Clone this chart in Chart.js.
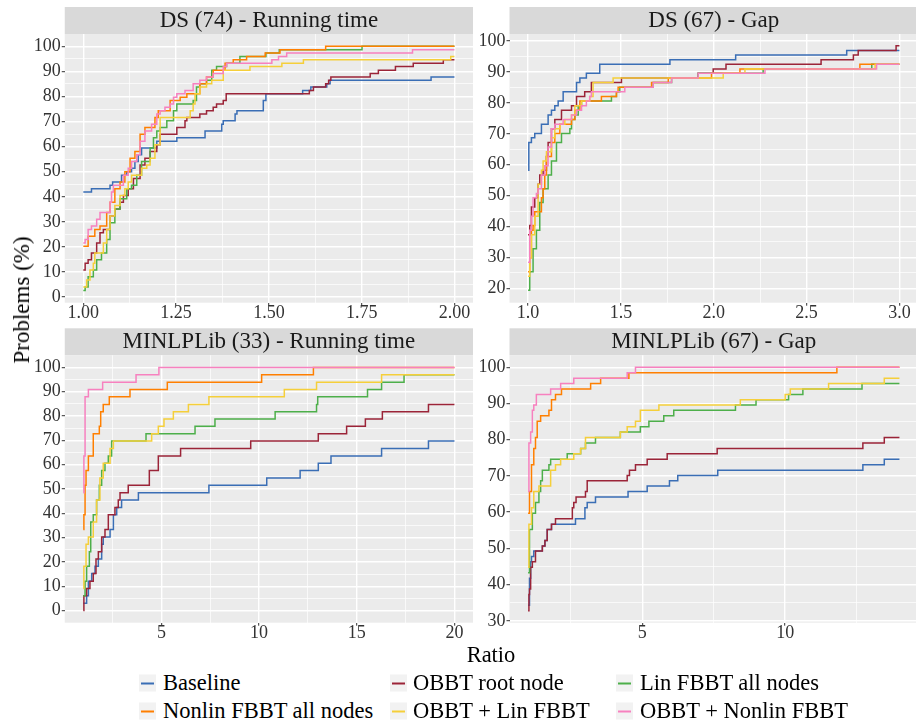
<!DOCTYPE html>
<html><head><meta charset="utf-8">
<script src="https://cdn.jsdelivr.net/npm/chart.js@4/dist/chart.umd.min.js"></script>
<style>
html,body{margin:0;padding:0;background:#fff;}
#wrap{position:relative;width:916px;height:727px;overflow:hidden;font-family:"Liberation Serif","Times New Roman",serif;color:#000;}
.pc{position:absolute;}
#ylab{position:absolute;left:22px;top:300px;transform:translate(-50%,-50%) rotate(-90deg);font-size:23px;white-space:nowrap;}
#xlab{position:absolute;left:491px;top:655px;transform:translate(-50%,-50%);font-size:22.5px;white-space:nowrap;}
.leg{position:absolute;font-size:22.5px;white-space:nowrap;line-height:24px;transform:translateY(-50%);}
.key{position:absolute;width:17px;height:17px;background:#F2F2F2;transform:translateY(-50%);}
.key i{position:absolute;left:2px;right:2px;top:7.5px;height:2.2px;display:block;}
</style></head>
<body>
<div id="wrap">
  <canvas id="p1" class="pc" width="490" height="330" style="left:0;top:0;width:490px;height:330px"></canvas>
  <canvas id="p2" class="pc" width="445" height="330" style="left:475px;top:0;width:445px;height:330px"></canvas>
  <canvas id="p3" class="pc" width="490" height="330" style="left:0;top:320px;width:490px;height:330px"></canvas>
  <canvas id="p4" class="pc" width="445" height="330" style="left:475px;top:320px;width:445px;height:330px"></canvas>
  <div id="ylab">Problems (%)</div>
  <div id="xlab">Ratio</div>
  <div id="legend"></div>
</div>
<script>
// ---------- data ----------
const seriesNames = ['Baseline','OBBT root node','Lin FBBT all nodes','Nonlin FBBT all nodes','OBBT + Lin FBBT','OBBT + Nonlin FBBT'];
const seriesColors = ['#3A6EB5','#9B2438','#4DAF4A','#FF7F00','#F5CF3A','#F781BF'];
const panelTitles = ['DS (74) - Running time','DS (67) - Gap','MINLPLib (33) - Running time','MINLPLib (67) - Gap'];

// DS (74) - Running time : [ratio, % problems]
const dsTimeBaseline = [[1.000,41.9],[1.022,43.2],[1.072,44.6],[1.079,45.9],[1.103,48.6],[1.117,50.0],[1.130,51.4],[1.139,54.1],[1.148,56.8],[1.157,59.5],[1.198,62.2],[1.252,63.5],[1.328,66.2],[1.373,68.9],[1.377,70.3],[1.409,73.0],[1.414,74.3],[1.485,78.4],[1.492,81.1],[1.591,82.4],[1.613,83.8],[1.656,85.1],[1.665,86.5],[1.937,87.8],[2.000,87.8]];
const dsTimeObbtRoot = [[1.000,10.8],[1.005,13.5],[1.013,14.9],[1.022,17.6],[1.036,21.6],[1.045,25.7],[1.054,27.0],[1.072,32.4],[1.085,35.1],[1.099,37.8],[1.108,40.5],[1.121,43.2],[1.135,47.3],[1.153,52.7],[1.166,55.4],[1.180,58.1],[1.198,60.8],[1.207,64.9],[1.252,67.6],[1.274,70.3],[1.279,71.6],[1.314,73.0],[1.332,74.3],[1.350,75.7],[1.359,77.0],[1.377,78.4],[1.385,81.1],[1.609,82.4],[1.620,83.8],[1.653,85.1],[1.661,86.5],[1.667,87.8],[1.773,89.2],[1.795,90.5],[1.841,91.9],[1.889,93.2],[1.970,94.6],[2.000,94.6]];
const dsTimeLin = [[1.000,2.7],[1.005,4.1],[1.013,8.1],[1.027,10.8],[1.036,14.9],[1.049,17.6],[1.063,23.0],[1.072,29.7],[1.085,35.1],[1.099,39.2],[1.117,43.2],[1.130,44.6],[1.144,48.6],[1.157,54.1],[1.180,59.5],[1.189,63.5],[1.198,66.2],[1.207,67.6],[1.225,70.3],[1.243,74.3],[1.252,77.0],[1.296,78.4],[1.305,83.8],[1.314,85.1],[1.332,86.5],[1.346,90.5],[1.359,91.9],[1.386,93.2],[1.422,95.9],[1.492,97.3],[1.528,98.6],[1.751,100],[2.000,100]];
const dsTimeNonlin = [[1.000,20.3],[1.013,24.3],[1.031,27.0],[1.045,28.4],[1.063,33.8],[1.072,37.8],[1.085,43.2],[1.099,45.9],[1.112,50.0],[1.126,55.4],[1.139,58.1],[1.153,64.9],[1.166,67.6],[1.193,71.6],[1.202,74.3],[1.234,78.4],[1.261,79.7],[1.279,81.1],[1.314,85.1],[1.332,87.8],[1.350,90.5],[1.382,93.2],[1.404,94.6],[1.440,95.9],[1.490,97.3],[1.530,98.6],[1.653,100],[2.000,100]];
const dsTimeObbtLin = [[1.000,4.1],[1.009,6.8],[1.018,10.8],[1.027,13.5],[1.031,17.6],[1.054,21.6],[1.063,27.0],[1.072,32.4],[1.085,36.5],[1.099,40.5],[1.112,43.2],[1.121,45.9],[1.130,48.6],[1.157,51.4],[1.171,52.7],[1.180,55.4],[1.193,60.8],[1.207,71.6],[1.288,74.3],[1.296,77.0],[1.301,81.1],[1.314,83.8],[1.332,85.1],[1.346,86.5],[1.377,90.5],[1.449,91.9],[1.535,93.2],[1.593,94.6],[1.990,95.9],[2.000,95.9]];
const dsTimeObbtNonlin = [[1.000,21.6],[1.005,23.0],[1.013,27.0],[1.022,28.4],[1.036,31.1],[1.045,33.8],[1.072,37.8],[1.076,41.9],[1.081,44.6],[1.108,48.6],[1.121,51.4],[1.130,54.1],[1.144,56.8],[1.153,62.2],[1.166,66.2],[1.184,68.9],[1.198,73.0],[1.207,74.3],[1.220,75.7],[1.234,77.0],[1.243,79.7],[1.252,81.1],[1.274,82.4],[1.296,85.1],[1.314,86.5],[1.332,87.8],[1.350,89.2],[1.377,91.9],[1.386,93.2],[1.508,94.6],[1.526,95.9],[1.548,97.3],[1.887,98.6],[2.000,98.6]];

// DS (67) - Gap
const dsGapBaseline = [[1.000,58.2],[1.004,67.2],[1.018,68.7],[1.036,70.1],[1.072,73.1],[1.108,76.1],[1.126,77.6],[1.144,79.1],[1.162,80.6],[1.189,83.6],[1.261,86.6],[1.279,88.1],[1.314,89.6],[1.386,92.5],[1.764,94.0],[2.118,95.5],[2.716,97.0],[3.000,97.0]];
const dsGapObbtRoot = [[1.000,37.3],[1.009,40.3],[1.018,46.3],[1.036,49.3],[1.054,53.7],[1.063,56.7],[1.081,58.2],[1.099,62.7],[1.108,67.2],[1.126,71.6],[1.144,74.6],[1.180,77.6],[1.234,79.1],[1.261,82.1],[1.305,83.6],[1.341,86.6],[1.503,88.1],[1.916,89.6],[1.997,91.0],[2.066,92.5],[2.578,94.0],[2.752,95.5],[2.778,97.0],[2.982,98.5],[3.000,98.5]];
const dsGapLin = [[1.000,19.4],[1.009,25.4],[1.027,32.8],[1.045,38.8],[1.063,47.8],[1.081,52.2],[1.108,56.7],[1.126,61.2],[1.153,67.2],[1.180,70.1],[1.225,71.6],[1.234,74.6],[1.252,76.1],[1.270,79.1],[1.288,80.6],[1.449,82.1],[1.476,83.6],[1.494,85.1],[1.674,86.6],[1.773,88.1],[1.916,89.6],[2.266,91.0],[2.851,92.5],[3.000,92.5]];
const dsGapNonlin = [[1.000,25.4],[1.009,29.9],[1.018,38.8],[1.027,40.3],[1.036,44.8],[1.072,49.3],[1.081,52.2],[1.090,56.7],[1.099,62.7],[1.126,67.2],[1.144,70.1],[1.171,73.1],[1.234,74.6],[1.252,77.6],[1.279,80.6],[1.395,82.1],[1.476,83.6],[1.485,85.1],[1.665,86.6],[1.755,88.1],[1.988,89.6],[2.141,91.0],[2.787,92.5],[3.000,92.5]];
const dsGapObbtLin = [[1.000,23.9],[1.009,29.9],[1.018,37.3],[1.036,43.3],[1.054,53.7],[1.072,58.2],[1.081,61.2],[1.099,64.2],[1.126,68.7],[1.144,71.6],[1.171,73.1],[1.198,74.6],[1.234,76.1],[1.252,79.1],[1.288,80.6],[1.332,82.1],[1.350,86.6],[1.458,88.1],[2.051,89.6],[2.168,91.0],[2.869,92.5],[3.000,92.5]];
const dsGapObbtNonlin = [[1.000,28.4],[1.009,38.8],[1.018,43.3],[1.027,49.3],[1.045,50.7],[1.054,52.2],[1.072,56.7],[1.090,59.7],[1.108,65.7],[1.126,71.6],[1.144,73.1],[1.189,74.6],[1.234,76.1],[1.261,77.6],[1.288,79.1],[1.314,80.6],[1.332,82.1],[1.341,83.6],[1.521,85.1],[1.674,86.6],[1.773,88.1],[1.916,89.6],[2.276,91.0],[2.877,92.5],[3.000,92.5]];

// MINLPLib (33) - Running time
const mlTimeBaseline = [[1.00,3.0],[1.17,6.1],[1.26,12.1],[1.43,15.2],[1.60,18.2],[1.77,21.2],[1.94,27.3],[2.02,30.3],[2.37,33.3],[2.54,39.4],[2.71,42.4],[2.96,45.5],[3.82,48.5],[7.43,51.5],[10.39,54.5],[12.10,57.6],[13.03,60.6],[13.68,63.6],[16.27,66.7],[18.67,69.7],[20.00,69.7]];
const mlTimeObbtRoot = [[1.00,0],[1.03,6.1],[1.17,9.1],[1.34,12.1],[1.51,15.2],[1.65,21.2],[1.77,24.2],[1.94,30.3],[2.11,33.3],[2.28,39.4],[2.62,42.4],[2.79,45.5],[2.88,48.5],[3.30,51.5],[4.38,57.6],[4.84,63.6],[5.98,66.7],[9.57,69.7],[13.03,72.7],[14.48,75.8],[15.44,78.8],[16.31,81.8],[18.67,84.8],[20.00,84.8]];
const mlTimeLin = [[1.00,6.1],[1.09,12.1],[1.17,18.2],[1.31,24.2],[1.38,36.4],[1.51,39.4],[1.68,45.5],[1.82,51.5],[1.94,57.6],[2.11,60.6],[2.28,63.6],[2.45,69.7],[4.21,72.7],[6.72,75.8],[7.74,78.8],[10.82,81.8],[12.94,84.8],[13.00,87.9],[15.55,90.9],[16.27,93.9],[17.42,97.0],[20.00,97.0]];
const mlTimeNonlin = [[1.00,33.3],[1.03,39.4],[1.09,51.5],[1.14,57.6],[1.26,63.6],[1.51,72.7],[1.82,75.8],[1.89,81.8],[2.02,84.8],[2.33,87.9],[3.39,90.9],[5.30,93.9],[10.13,97.0],[12.78,100],[20.00,100]];
const mlTimeObbtLin = [[1.00,9.1],[1.03,18.2],[1.14,27.3],[1.26,30.3],[1.51,36.4],[1.68,45.5],[1.85,54.5],[2.02,60.6],[2.37,66.7],[2.54,69.7],[4.50,72.7],[4.84,75.8],[5.13,78.8],[5.61,81.8],[6.38,84.8],[7.43,87.9],[11.29,90.9],[12.94,93.9],[16.27,97.0],[20.00,97.0]];
const mlTimeObbtNonlin = [[1.00,48.5],[1.03,63.6],[1.09,87.9],[1.26,90.9],[1.99,93.9],[3.70,97.0],[4.87,100],[20.00,100]];

// MINLPLib (67) - Gap
const mlGapBaseline = [[1.00,34.3],[1.05,41.8],[1.09,46.3],[1.12,47.8],[1.20,49.3],[1.50,50.7],[1.59,52.2],[1.67,55.2],[1.82,56.7],[2.66,58.2],[2.99,61.2],[3.07,62.7],[3.36,64.2],[4.50,65.7],[5.17,67.2],[5.95,68.7],[6.24,70.1],[7.64,71.6],[12.72,73.1],[13.47,74.6],[14.00,74.6]];
const mlGapObbtRoot = [[1.00,32.8],[1.03,37.3],[1.05,38.8],[1.09,44.8],[1.15,46.3],[1.26,49.3],[1.50,50.7],[1.59,52.2],[1.67,55.2],[1.82,56.7],[1.96,58.2],[2.55,61.2],[2.60,62.7],[2.68,64.2],[3.01,65.7],[3.07,68.7],[4.47,70.1],[4.55,71.6],[4.76,73.1],[5.17,74.6],[5.87,76.1],[7.62,77.6],[12.72,79.1],[13.47,80.6],[14.00,80.6]];
const mlGapLin = [[1.00,43.3],[1.05,55.2],[1.15,59.7],[1.26,62.7],[1.38,65.7],[1.44,68.7],[1.50,71.6],[1.73,73.1],[1.79,74.6],[2.37,76.1],[2.84,77.6],[3.01,79.1],[3.36,80.6],[4.23,82.1],[4.93,83.6],[5.23,85.1],[5.75,86.6],[6.10,88.1],[8.26,89.6],[8.98,91.0],[10.12,92.5],[10.62,94.0],[12.69,95.5],[14.00,95.5]];
const mlGapNonlin = [[1.00,59.7],[1.05,65.7],[1.12,73.1],[1.20,77.6],[1.26,80.6],[1.32,85.1],[1.44,86.6],[1.73,88.1],[1.82,91.0],[1.96,92.5],[2.17,94.0],[3.19,95.5],[3.54,97.0],[4.53,98.5],[11.81,100],[14.00,100]];
const mlGapObbtLin = [[1.00,44.8],[1.03,56.7],[1.12,61.2],[1.20,65.7],[1.38,67.2],[1.79,71.6],[1.96,73.1],[2.14,74.6],[2.60,76.1],[2.84,77.6],[3.01,80.6],[4.23,82.1],[4.47,83.6],[4.76,85.1],[4.93,88.1],[5.58,89.6],[8.43,91.0],[10.00,92.5],[10.18,94.0],[11.52,95.5],[13.47,97.0],[14.00,97.0]];
const mlGapObbtNonlin = [[1.00,65.7],[1.03,79.1],[1.09,82.1],[1.15,88.1],[1.20,89.6],[1.29,92.5],[1.79,94.0],[2.14,95.5],[2.60,97.0],[4.47,98.5],[4.76,100],[14.00,100]];

// tick values and labels
const dsTimeXTicks = [1.00,1.25,1.50,1.75,2.00];
const dsTimeXLabels = ['1.00','1.25','1.50','1.75','2.00'];
const dsGapXTicks = [1.0,1.5,2.0,2.5,3.0];
const dsGapXLabels = ['1.0','1.5','2.0','2.5','3.0'];
const mlTimeXTicks = [5,10,15,20];
const mlTimeXLabels = ['5','10','15','20'];
const mlGapXTicks = [5,10];
const mlGapXLabels = ['5','10'];
const yTicks0to100 = [0,10,20,30,40,50,60,70,80,90,100];
const yTicks20to100 = [20,30,40,50,60,70,80,90,100];
const yTicks30to100 = [30,40,50,60,70,80,90,100];

// ---------- drawing ----------
Chart.defaults.font.family = "'Liberation Serif','Times New Roman',serif";
Chart.defaults.color = '#333333';

const panelBg = {
  id: 'panelBg',
  beforeDraw(chart, args, opts) {
    const {ctx, chartArea: a} = chart;
    ctx.save();
    ctx.fillStyle = '#D9D9D9';
    ctx.fillRect(a.left, opts.stripTop, a.right - a.left, a.top - opts.stripTop);
    ctx.fillStyle = '#EBEBEB';
    ctx.fillRect(a.left, a.top, a.right - a.left, a.bottom - a.top);
    ctx.restore();
  }
};

function tickList(major, minor) {
  return major.map(v => ({value: v, minor: false}))
    .concat(minor.map(v => ({value: v, minor: true})))
    .sort((a, b) => a.value - b.value);
}

function axis(cfg, isX) {
  return {
    type: 'linear', bounds: 'data',
    min: cfg.min, max: cfg.max,
    afterBuildTicks: s => { s.ticks = tickList(cfg.major, cfg.minor); },
    afterFit: s => { if (isX) s.height = cfg.size; else s.width = cfg.size; },
    border: {display: false},
    grid: {
      color: '#FFFFFF',
      lineWidth: c => (c.tick && c.tick.minor) ? 0.7 : 1.4,
      tickColor: c => (c.tick && c.tick.minor) ? 'rgba(0,0,0,0)' : '#333333',
      tickWidth: 1,
      tickLength: 3,
      drawTicks: true
    },
    ticks: {
      autoSkip: false, maxRotation: 0,
      padding: isX ? -1 : 1,
      color: '#333333',
      font: {size: 18, lineHeight: 1.0},
      callback: (v, i, t) => t[i].minor ? '' : cfg.labels[cfg.major.indexOf(v)]
    }
  };
}

function makePanel(id, p) {
  const datasets = p.series.map((s, i) => ({
    label: seriesNames[i],
    data: s.map(pt => ({x: pt[0], y: pt[1]})),
    borderColor: seriesColors[i],
    backgroundColor: seriesColors[i],
    borderWidth: 1.5,
    pointRadius: 0,
    stepped: 'before',
    fill: false,
    order: 6 - i
  }));
  new Chart(document.getElementById(id), {
    type: 'line',
    data: {datasets},
    plugins: [panelBg],
    options: {
      responsive: false, animation: false, devicePixelRatio: 1, events: [],
      layout: {padding: {left: 0, top: p.stripTop, right: p.padRight, bottom: 0}},
      plugins: {
        legend: {display: false},
        tooltip: {enabled: false},
        panelBg: {stripTop: p.stripTop},
        title: {
          display: true, text: p.title, fullSize: false, color: '#1A1A1A',
          font: {size: 23, weight: 'normal', lineHeight: 27 / 23},
          padding: {top: 0, bottom: 0}
        }
      },
      scales: {
        x: axis(p.x, true),
        y: axis(p.y, false)
      }
    }
  });
}

const minorY0 = [5,15,25,35,45,55,65,75,85,95];
makePanel('p1', {
  title: panelTitles[0], stripTop: 7, padRight: 17,
  series: [dsTimeBaseline, dsTimeObbtRoot, dsTimeLin, dsTimeNonlin, dsTimeObbtLin, dsTimeObbtNonlin],
  x: {min: 0.95, max: 2.05, major: dsTimeXTicks, minor: [1.125,1.375,1.625,1.875], labels: dsTimeXLabels, size: 27.3},
  y: {min: -2.2, max: 104.9, major: yTicks0to100, minor: minorY0, labels: yTicks0to100.map(String), size: 64.75}
});
makePanel('p2', {
  title: panelTitles[1], stripTop: 7, padRight: 2,
  series: [dsGapBaseline, dsGapObbtRoot, dsGapLin, dsGapNonlin, dsGapObbtLin, dsGapObbtNonlin],
  x: {min: 0.9, max: 3.1, major: dsGapXTicks, minor: [1.25,1.75,2.25,2.75], labels: dsGapXLabels, size: 27.3},
  y: {min: 15.35, max: 102.3, major: yTicks20to100, minor: [25,35,45,55,65,75,85,95], labels: yTicks20to100.map(String), size: 34.5}
});
makePanel('p3', {
  title: panelTitles[2], stripTop: 8.3, padRight: 17,
  series: [mlTimeBaseline, mlTimeObbtRoot, mlTimeLin, mlTimeNonlin, mlTimeObbtLin, mlTimeObbtNonlin],
  x: {min: 0.05, max: 20.95, major: mlTimeXTicks, minor: [2.5,7.5,12.5,17.5], labels: mlTimeXLabels, size: 27.3},
  y: {min: -5, max: 105, major: yTicks0to100, minor: minorY0, labels: yTicks0to100.map(String), size: 64.75}
});
makePanel('p4', {
  title: panelTitles[3], stripTop: 8.3, padRight: 2,
  series: [mlGapBaseline, mlGapObbtRoot, mlGapLin, mlGapNonlin, mlGapObbtLin, mlGapObbtNonlin],
  x: {min: 0.35, max: 14.65, major: mlGapXTicks, minor: [2.5,7.5,12.5], labels: mlGapXLabels, size: 27.3},
  y: {min: 29.5, max: 103.3, major: yTicks30to100, minor: [35,45,55,65,75,85,95], labels: yTicks30to100.map(String), size: 34.5}
});

// ---------- legend (HTML, 3 columns x 2 rows) ----------
const legCols = [{key: 139, text: 163}, {key: 390, text: 413}, {key: 616, text: 640}];
const legRows = [683, 711];
const leg = document.getElementById('legend');
seriesNames.forEach((name, i) => {
  const col = legCols[i % 3], row = legRows[Math.floor(i / 3)];
  const k = document.createElement('div');
  k.className = 'key';
  k.style.left = col.key + 'px';
  k.style.top = row + 'px';
  const line = document.createElement('i');
  line.style.background = seriesColors[i];
  k.appendChild(line);
  const t = document.createElement('div');
  t.className = 'leg';
  t.style.left = col.text + 'px';
  t.style.top = row + 'px';
  t.textContent = name;
  leg.appendChild(k);
  leg.appendChild(t);
});
</script>
</body></html>
